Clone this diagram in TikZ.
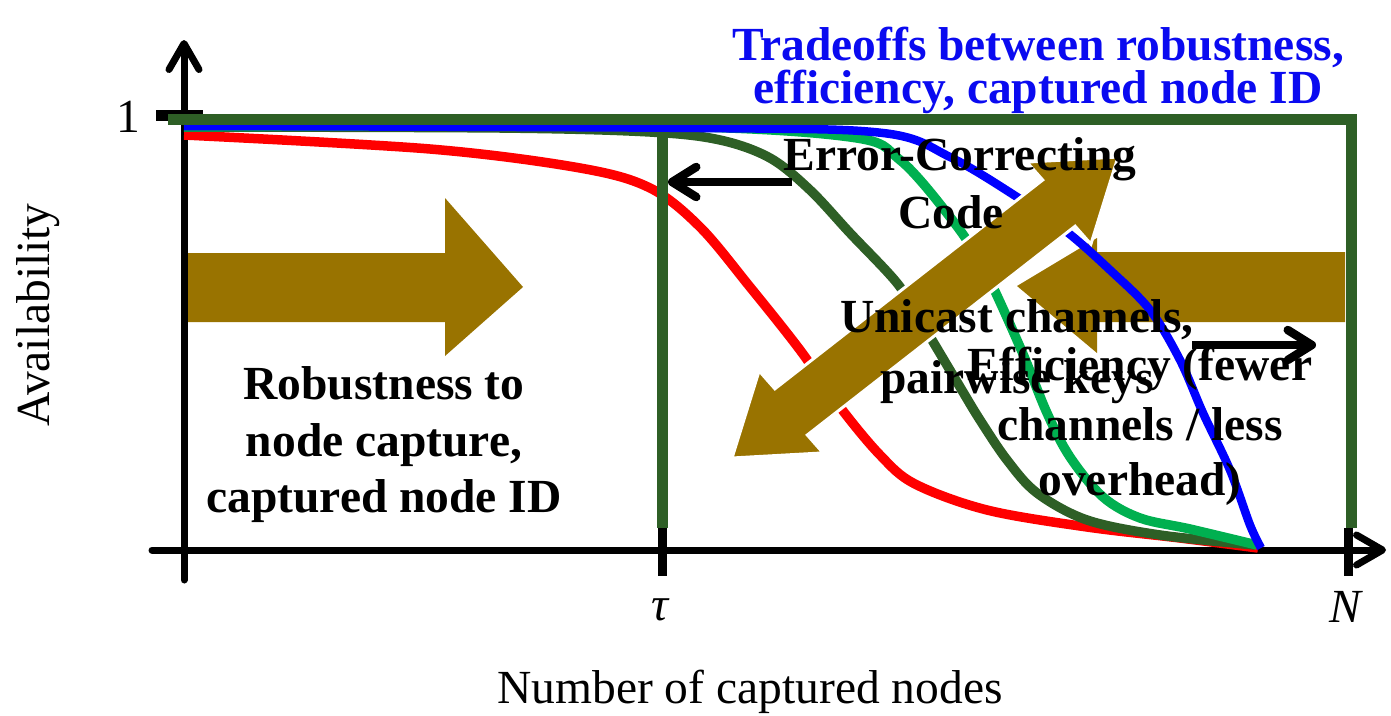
\documentclass[tikz,border=0pt]{standalone}
\usepackage{fontspec}
\setmainfont{Liberation Serif}
\usetikzlibrary{arrows.meta}

\definecolor{frameGreen}{RGB}{46,95,38}
\definecolor{lightGreen}{RGB}{0,176,80}
\definecolor{arrowBrown}{RGB}{153,115,0}
\definecolor{titleBlue}{RGB}{10,10,240}

\tikzset{
  axisline/.style={line width=7pt, line cap=round,
    -{Straight Barb[length=26pt, width=30pt, line cap=round, line join=round]}},
  tickmark/.style={line width=9pt},
  framestroke/.style={frameGreen, line width=11pt, line join=miter},
  curve/.style={line width=9.5pt, line cap=butt, line join=round},
  fatarrow/.style={fill=arrowBrown, draw=none},
  pointer/.style={line width=8.5pt,
    -{Straight Barb[length=24pt, width=30pt, line cap=round, line join=round]}},
  regtext/.style={font=\fontsize{47.5}{56}\selectfont, inner sep=0pt},
  boldtext/.style={font=\bfseries\fontsize{47.5}{56}\selectfont, inner sep=0pt, anchor=base},
  titletext/.style={boldtext, text=titleBlue},
}

\begin{document}
\begin{tikzpicture}[x=1pt, y=-1pt]
\useasboundingbox (0,0) rectangle (1391,715);

% axes
\coordinate (ybot) at (184,580);
\coordinate (ytop) at (184,40);
\coordinate (xleft) at (152,550);
\coordinate (xright) at (1386,550);
\draw[axisline] (ybot) -- (ytop);
\draw[axisline] (xleft) -- (xright);

% tick marks
\coordinate (oneL) at (156,115);
\coordinate (oneR) at (203,115);
\draw[tickmark, line width=11pt] (oneL) -- (oneR);
\coordinate (tauTop) at (662,528);
\coordinate (tauBot) at (662,576);
\coordinate (nTop) at (1348,528);
\coordinate (nBot) at (1348,576);
\draw[tickmark] (tauTop) -- (tauBot);
\draw[tickmark] (nTop) -- (nBot);

% broad horizontal arrows
\fill[fatarrow] (1345,252) -- (1097,252) -- (1097,238) -- (1017,286)
  -- (1097,353) -- (1097,322) -- (1345,322) -- cycle;
\fill[fatarrow] (188,253) -- (445,253) -- (445,198) -- (523,287)
  -- (445,356) -- (445,322) -- (188,322) -- cycle;

% availability curves
\draw[curve, red] plot[smooth, tension=0.55] coordinates {
  (184,135) (430,149) (580,168) (650,188) (700,227) (750,287) (800,350)
  (840,407) (880,455) (915,484) (987,510) (1087,527) (1180,538) (1258,548)};
\draw[curve, frameGreen] plot[smooth, tension=0.55] coordinates {
  (184,127) (500,128) (650,132) (720,140) (770,158) (810,190) (850,233)
  (897,283) (920,320) (960,387) (980,420) (1007,460) (1037,493) (1087,520)
  (1160,535) (1255,545)};
\draw[curve, lightGreen] plot[smooth, tension=0.55] coordinates {
  (184,127) (650,126) (850,137) (900,160) (950,217) (983,267) (1020,347)
  (1047,413) (1070,457) (1103,497) (1140,518) (1190,529) (1257,545)};
\draw[curve, blue, line width=8.5pt] plot[smooth, tension=0.55] coordinates {
  (184,126) (700,128) (883,133) (950,157) (1017,197) (1067,232)
  (1110,270) (1150,310) (1180,360) (1203,413) (1230,470) (1250,525) (1261,548)};

% threshold frame
\coordinate (frameL) at (168,119);
\coordinate (frameC) at (1351,119);
\coordinate (frameB) at (1351,528);
\draw[framestroke] (frameL) -- (frameC) -- (frameB);
\coordinate (tauLineTop) at (662,132);
\draw[framestroke, line cap=butt] (tauLineTop) -- (tauTop);

% double-headed tradeoff arrow
\filldraw[fill=arrowBrown, draw=white, line width=3pt, line join=miter]
  (732,458) -- (823.1,452.9) -- (807.3,435.0) -- (1075.1,226.2)
  -- (1090.9,244.1) -- (1118,157) -- (1026.9,162.1) -- (1042.7,180.0)
  -- (774.9,388.8) -- (759.1,370.9) -- cycle;

% thin pointers
\coordinate (eccStart) at (792,182);
\coordinate (eccEnd) at (668,182);
\draw[pointer] (eccStart) -- (eccEnd);
\coordinate (effStart) at (1192,345);
\coordinate (effEnd) at (1316,345);
\draw[pointer] (effStart) -- (effEnd);

% axis labels
\node[regtext] (lblOne) at (128,117) {1};
\node[regtext] (lblTau) at (660,610) {\itshape τ};
\node[regtext] (lblN) at (1345,607) {\itshape N};
\node[regtext, anchor=base] (lblX) at (750,703) {Number of captured nodes};
\node[regtext, rotate=90] (lblY) at (38,315) {Availability};

% annotations
\node[titletext] (title1) at (1038,60) {Tradeoffs between robustness,};
\node[titletext] (title2) at (1038,103) {efficiency, captured node ID};

\node[boldtext] (ecc1) at (960,170) {Error-Correcting};
\node[boldtext] (ecc2) at (951,228) {Code};

\node[boldtext] (uni1) at (1017,332) {Unicast channels,};
\node[boldtext] (uni2) at (1017,393) {pairwise keys};

\node[boldtext] (eff1) at (1140,380) {Efficiency (fewer};
\node[boldtext] (eff2) at (1140,440) {channels / less};
\node[boldtext] (eff3) at (1140,495) {overhead)};

\node[boldtext] (rob1) at (384,399) {Robustness to};
\node[boldtext] (rob2) at (384,456) {node capture,};
\node[boldtext] (rob3) at (384,512) {captured node ID};
\end{tikzpicture}
\end{document}
